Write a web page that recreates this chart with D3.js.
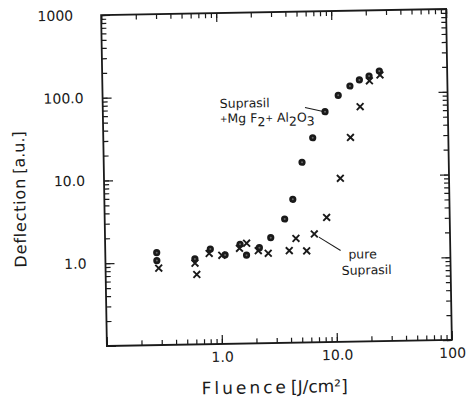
<!DOCTYPE html>
<html>
<head>
<meta charset="utf-8">
<script src="https://cdn.jsdelivr.net/npm/d3@7"></script>
<style>
  body { margin: 0; background: #fff; }
  svg { display: block; }
  text { font-family: 'DejaVu Sans', sans-serif; fill: #1a1a1a; }
  .tick line { stroke: #1a1a1a; stroke-width: 1.2; }
  .domain { display: none; }
</style>
</head>
<body>
<div id="chart"></div>
<script>
// values
var coatedFluence = [0.28, 0.28, 0.60, 0.82, 1.10, 1.49, 1.69, 2.19, 2.76, 3.67, 4.35, 5.30, 6.62, 8.55, 11.2, 14.2, 17.2, 20.9, 25.7]
var coatedDeflection = [1.31, 1.05, 1.08, 1.41, 1.19, 1.59, 1.17, 1.43, 1.88, 3.14, 5.41, 15.1, 29.7, 60.9, 95.5, 123, 145, 161, 184]

var pureFluence = [0.29, 0.60, 0.62, 0.80, 1.03, 1.47, 1.70, 2.14, 2.61, 3.98, 4.57, 5.64, 6.61, 8.51, 11.35, 14.1, 17.3, 21.0, 26.0]
var pureDeflection = [0.85, 0.96, 0.70, 1.25, 1.18, 1.42, 1.63, 1.32, 1.22, 1.30, 1.82, 1.28, 2.04, 3.21, 9.48, 29.4, 68.9, 141, 165]

var xMajor = [0.1, 1, 10, 100]
var xTickLabels = ['', '1.0', '10.0', '100']
var yMajor = [0.1, 1, 10, 100, 1000]
var yTickLabels = ['', '1.0', '10.0', '100.0', '1000']

var margin = { top: 12, right: 18, bottom: 56, left: 104 }
var width = 467 - margin.left - margin.right
var height = 399 - margin.top - margin.bottom

var root = d3.select('#chart')
  .append('svg')
  .attr('width', 467)
  .attr('height', 399)
  .append('g')
  // the scan is tilted by about a degree
  .attr('transform', 'rotate(-1,' + (margin.left + width / 2) + ',' + (margin.top + height / 2) + ')')

var svg = root.append('g')
  .attr('transform', 'translate(' + margin.left + ',' + margin.top + ')')

var x = d3.scaleLog().domain([0.1, 100]).range([0, width])
var y = d3.scaleLog().domain([0.1, 1000]).range([height, 0])

function xLabel (d) { return xTickLabels[xMajor.indexOf(d)] }
function yLabel (d) { return yTickLabels[yMajor.indexOf(d)] }

// minor ticks, all four sides, pointing inward
svg.append('g').attr('transform', 'translate(0,' + height + ')')
  .call(d3.axisBottom(x).tickValues(x.ticks()).tickSize(-5).tickFormat(''))
svg.append('g')
  .call(d3.axisTop(x).tickValues(x.ticks()).tickSize(-5).tickFormat(''))
svg.append('g')
  .call(d3.axisLeft(y).tickValues(y.ticks()).tickSize(-5).tickFormat(''))
svg.append('g').attr('transform', 'translate(' + width + ',0)')
  .call(d3.axisRight(y).tickValues(y.ticks()).tickSize(-5).tickFormat(''))

// major ticks + labels
var xAxis = svg.append('g').attr('transform', 'translate(0,' + height + ')')
  .call(d3.axisBottom(x).tickValues(xMajor).tickSize(-9).tickPadding(8).tickFormat(xLabel))
xAxis.selectAll('text').style('font-size', '14px')

svg.append('g')
  .call(d3.axisTop(x).tickValues(xMajor).tickSize(-9).tickFormat(''))

var yAxis = svg.append('g')
  .call(d3.axisLeft(y).tickValues(yMajor).tickSize(-9).tickPadding(19).tickFormat(yLabel))
yAxis.selectAll('text').style('font-size', '14px')
  .attr('dx', function (d) { return d === 1000 ? -9 : 0 })

svg.append('g').attr('transform', 'translate(' + width + ',0)')
  .call(d3.axisRight(y).tickValues(yMajor).tickSize(-9).tickFormat(''))

svg.selectAll('.tick text').style('fill', '#1a1a1a').style('font-family', "'DejaVu Sans', sans-serif")

svg.append('rect')
  .attr('width', width)
  .attr('height', height)
  .attr('fill', 'none')
  .attr('stroke', '#1a1a1a')
  .attr('stroke-width', 1.8)

// pure Suprasil: crosses
var pure = pureFluence.map(function (f, i) { return { f: f, v: pureDeflection[i] } })
svg.selectAll('.cross')
  .data(pure)
  .enter()
  .append('path')
  .attr('class', 'cross')
  .attr('transform', function (d) { return 'translate(' + x(d.f) + ',' + y(d.v) + ')' })
  .attr('d', 'M-3.4,-3.4L3.4,3.4M-3.4,3.4L3.4,-3.4')
  .attr('stroke', '#1a1a1a')
  .attr('stroke-width', 1.9)

// coated Suprasil: dots
var coated = coatedFluence.map(function (f, i) { return { f: f, v: coatedDeflection[i] } })
svg.selectAll('.dot')
  .data(coated)
  .enter()
  .append('circle')
  .attr('class', 'dot')
  .attr('cx', function (d) { return x(d.f) })
  .attr('cy', function (d) { return y(d.v) })
  .attr('r', 3.6)
  .attr('fill', '#1a1a1a')
svg.selectAll('.dotc')
  .data(coated)
  .enter()
  .append('circle')
  .attr('class', 'dotc')
  .attr('cx', function (d) { return x(d.f) })
  .attr('cy', function (d) { return y(d.v) })
  .attr('r', 1)
  .attr('fill', '#666')

// annotations
var lab = coated[13]
svg.append('line')
  .attr('x1', x(lab.f) - 20).attr('y1', y(lab.v) - 4.5)
  .attr('x2', x(lab.f) - 3).attr('y2', y(lab.v) - 0.5)
  .attr('stroke', '#1a1a1a').attr('stroke-width', 1)

svg.append('text').attr('x', 117).attr('y', 95)
  .style('font-size', '12.5px').text('Suprasil')

var t = svg.append('text').attr('x', 117).attr('y', 110).style('font-size', '12.5px')
t.append('tspan').style('font-size', '9px').attr('dy', -1).text('+')
t.append('tspan').attr('dy', 1).text('Mg F')
t.append('tspan').attr('dy', 4).text('2')
t.append('tspan').style('font-size', '9px').attr('dy', -5).text('+')
t.append('tspan').attr('dy', 1).text(' Al')
t.append('tspan').attr('dy', 4).text('2')
t.append('tspan').attr('dy', -4).text('O')
t.append('tspan').attr('dy', 4).text('3')

var lab2 = pure[12]
svg.append('line')
  .attr('x1', x(lab2.f) + 4.5).attr('y1', y(lab2.v) + 3.3)
  .attr('x2', x(lab2.f) + 26).attr('y2', y(lab2.v) + 17)
  .attr('stroke', '#1a1a1a').attr('stroke-width', 1)

svg.append('text').attr('x', 243).attr('y', 248)
  .style('font-size', '12.5px').text('pure')
svg.append('text').attr('x', 236).attr('y', 264)
  .style('font-size', '12.5px').text('Suprasil')

// axis titles
var xt = svg.append('text').attr('x', 94).attr('y', 381).style('font-size', '17px')
xt.append('tspan').style('letter-spacing', '3px').text('Fluence')
xt.append('tspan').attr('dx', 2).text('[J/cm²]')

var yt = svg.append('text')
  .attr('transform', 'translate(-79,251) rotate(-90)')
  .style('font-size', '16px')
yt.append('tspan').style('letter-spacing', '0.8px').text('Deflection')
yt.append('tspan').attr('dx', 4).text('[a.u.]')
</script>
</body>
</html>
